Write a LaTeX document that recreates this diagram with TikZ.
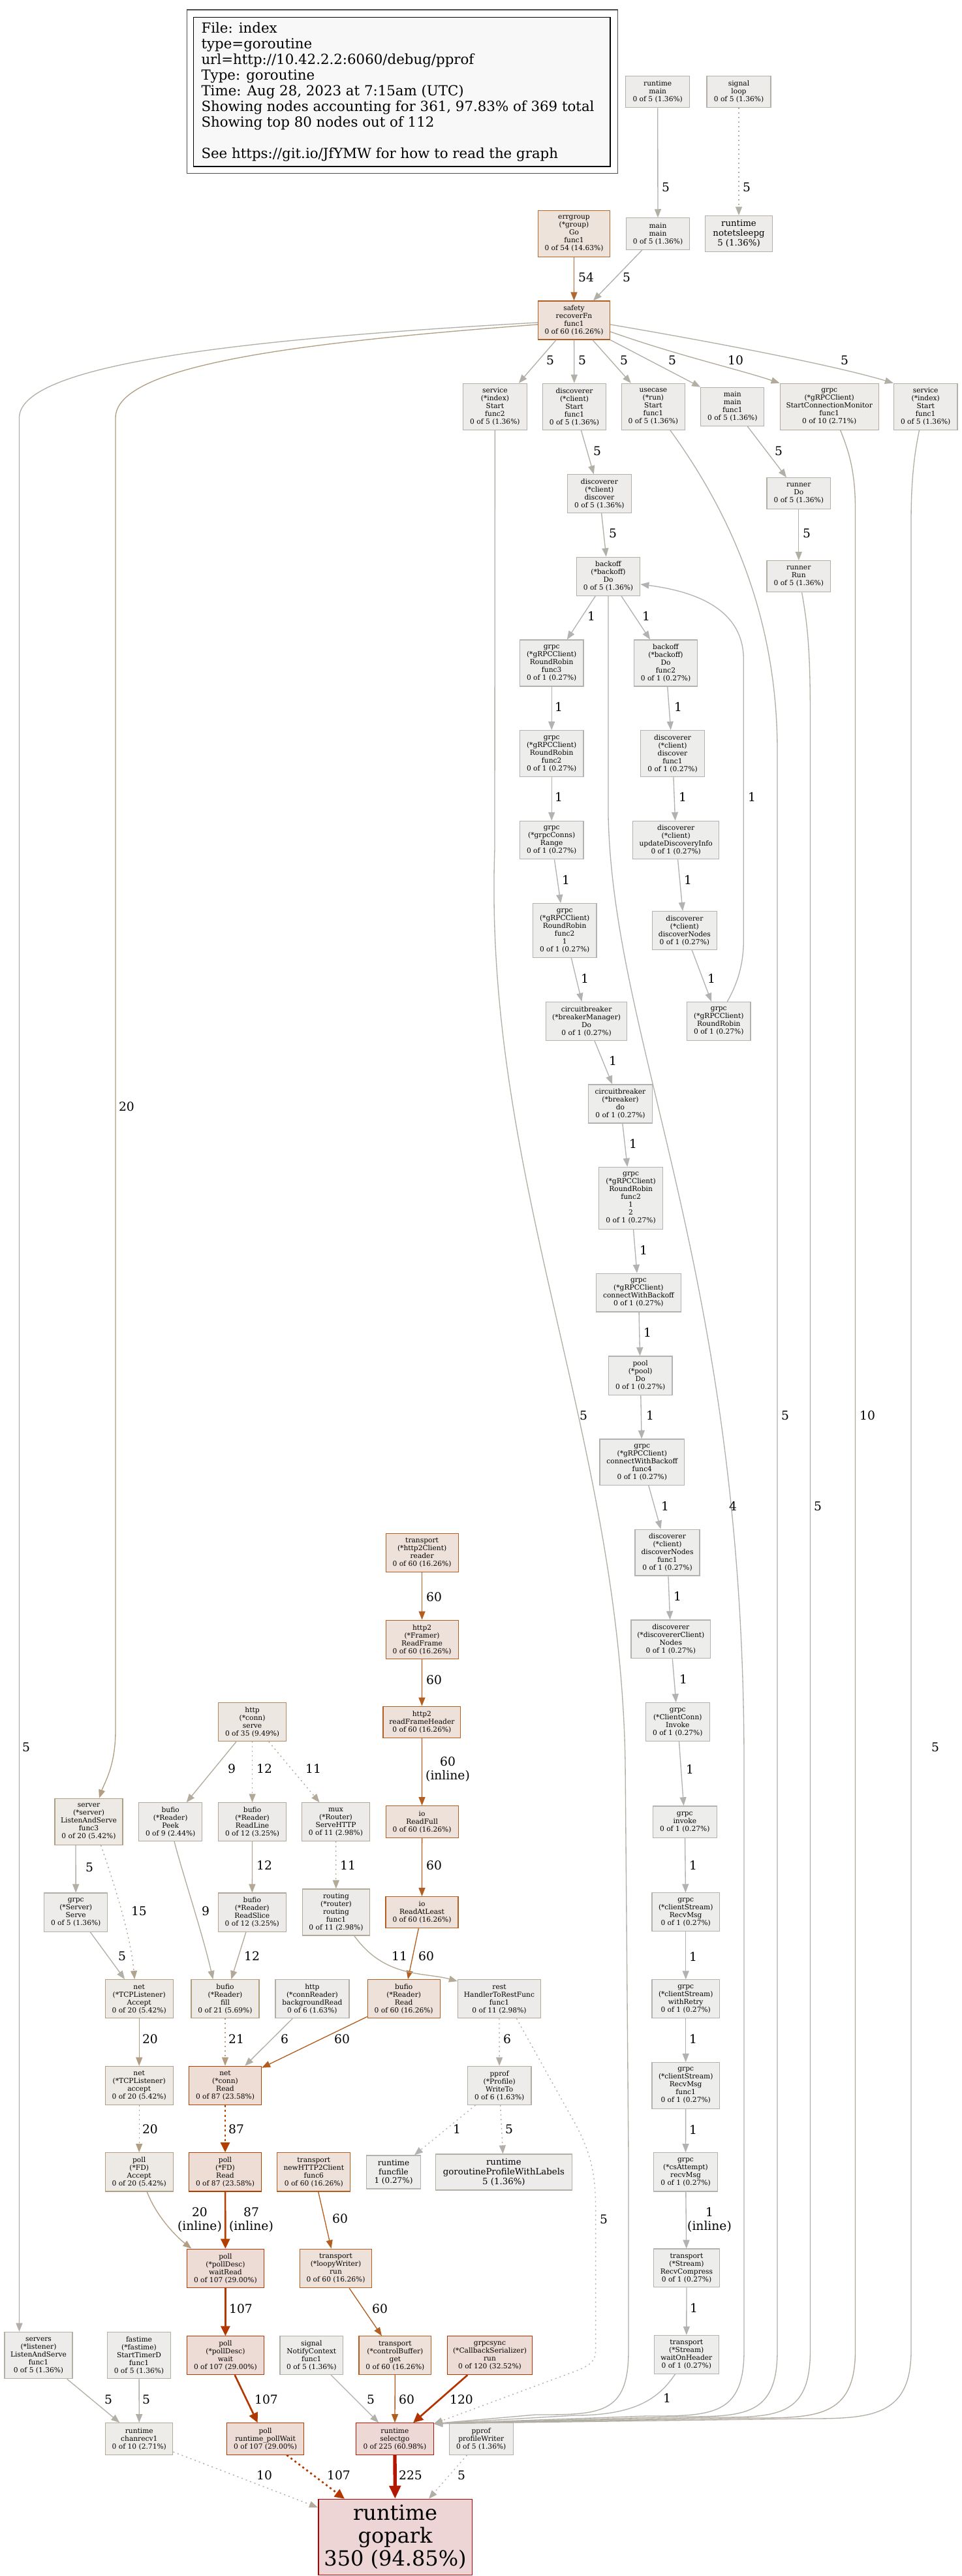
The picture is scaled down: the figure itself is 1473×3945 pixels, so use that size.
\documentclass[tikz,border=0pt]{standalone}
\usepackage{fontspec}
\setmainfont{DejaVu Serif}
\usetikzlibrary{arrows.meta}

% node fill / border colours, keyed by cumulative count
\definecolor{fa1}{HTML}{EDEDEC}\definecolor{da1}{HTML}{B2B2B0}
\definecolor{fa5}{HTML}{EDECEB}\definecolor{da5}{HTML}{B2AFA6}
\definecolor{fa6}{HTML}{EDECEB}\definecolor{da6}{HTML}{B2AEA4}
\definecolor{fa9}{HTML}{EDECEA}\definecolor{da9}{HTML}{B2AB9C}
\definecolor{fa10}{HTML}{EDECE9}\definecolor{da10}{HTML}{B2AA9A}
\definecolor{fa11}{HTML}{EDEBE9}\definecolor{da11}{HTML}{B2A997}
\definecolor{fa12}{HTML}{EDEBE9}\definecolor{da12}{HTML}{B2A895}
\definecolor{fa20}{HTML}{EDEAE6}\definecolor{da20}{HTML}{B29E82}
\definecolor{fa21}{HTML}{EDEAE6}\definecolor{da21}{HTML}{B29D7F}
\definecolor{fa35}{HTML}{EDE7E1}\definecolor{da35}{HTML}{B2885D}
\definecolor{fa54}{HTML}{EDE3DB}\definecolor{da54}{HTML}{B2692F}
\definecolor{fa60}{HTML}{EDE1D9}\definecolor{da60}{HTML}{B25E21}
\definecolor{fa87}{HTML}{EDDDD5}\definecolor{da87}{HTML}{B23E00}
\definecolor{fa107}{HTML}{EDDCD5}\definecolor{da107}{HTML}{B23700}
\definecolor{fa120}{HTML}{EDDCD5}\definecolor{da120}{HTML}{B23300}
\definecolor{fa225}{HTML}{EDD8D5}\definecolor{da225}{HTML}{B21800}
\definecolor{fa350}{HTML}{EDD5D5}\definecolor{da350}{HTML}{B20200}
\definecolor{de4}{HTML}{B2B0A8}
\definecolor{de15}{HTML}{B2A48E}
\definecolor{legfill}{HTML}{F8F8F8}

\tikzset{
  box/.style={draw, line width=1.2pt, inner sep=0pt, align=center,
              font=\fontsize{10.67}{12}\selectfont},
  n1/.style={box, fill=fa1, draw=da1},
  n5/.style={box, fill=fa5, draw=da5},
  n6/.style={box, fill=fa6, draw=da6},
  n9/.style={box, fill=fa9, draw=da9},
  n10/.style={box, fill=fa10, draw=da10},
  n11/.style={box, fill=fa11, draw=da11},
  n12/.style={box, fill=fa12, draw=da12},
  n20/.style={box, fill=fa20, draw=da20},
  n21/.style={box, fill=fa21, draw=da21},
  n35/.style={box, fill=fa35, draw=da35},
  n54/.style={box, fill=fa54, draw=da54},
  n60/.style={box, fill=fa60, draw=da60},
  n87/.style={box, fill=fa87, draw=da87},
  n107/.style={box, fill=fa107, draw=da107},
  n120/.style={box, fill=fa120, draw=da120},
  n225/.style={box, fill=fa225, draw=da225},
  n350/.style={box, fill=fa350, draw=da350, line width=1.6pt},
  big1/.style={font=\fontsize{12}{13.5}\selectfont},
  big5/.style={font=\fontsize{13.33}{14.7}\selectfont},
  huge/.style={font=\fontsize{32}{35}\selectfont},
  ed/.style={line width=1.33pt, -{Triangle[length=13pt,width=10pt]}},
  edb/.style={line width=2.67pt, -{Triangle[length=15pt,width=14pt]}},
  edh/.style={line width=5.33pt, -{Triangle[length=20pt,width=17pt]}},
  resid/.style={dash pattern=on 2pt off 5pt},
  residb/.style={dash pattern=on 3pt off 4.5pt},
  lbl/.style={inner sep=0pt, align=center, font=\fontsize{18.67}{21}\selectfont},
}

% \gv{style}{name}{x}{y}{width}{height}{text}
\newcommand\gv[7]{\node[#1,minimum width=#5,minimum height=#6] (#2) at (#3,#4) {#7};}

\begin{document}
\begin{tikzpicture}[x=1pt,y=-1pt]
\fill[white] (0,0) rectangle (1473,3945);
\useasboundingbox (0,0) rectangle (1473,3945);

% ---------- legend ----------
\node[draw=black, fill=legfill, line width=1.2pt, minimum width=638.2, minimum height=228.3, inner sep=0pt] (legend) at (615.9,140.85) {};
\draw[line width=1.2pt, draw=black!70] ([shift={(-10.1pt,11pt)}]legend.north west) rectangle ([shift={(10.6pt,-10pt)}]legend.south east);
\node[anchor=north west, align=left, inner sep=0pt, font=\fontsize{21.33}{24}\selectfont] (legtext) at (308.3,34.3)
 {File: index\\type=goroutine\\url=http://10.42.2.2:6060/debug/pprof\\Type: goroutine\\Time: Aug 28, 2023 at 7:15am (UTC)\\Showing nodes accounting for 361, 97.83\% of 369 total\\Showing top 80 nodes out of 112\\[24pt]See https://git.io/JfYMW for how to read the graph};

% ---------- nodes: upper right chain ----------
\gv{n5}{rtmain}{1007.7}{140.5}{98}{48.4}{runtime\\main\\0 of 5 (1.36\%)}
\gv{n5}{sigloop}{1132}{140.5}{98}{48.4}{signal\\loop\\0 of 5 (1.36\%)}
\gv{n54}{errgroup}{879.5}{357.8}{110.2}{71}{errgroup\\(*group)\\Go\\func1\\0 of 54 (14.63\%)}
\gv{n5}{mainmain}{1008}{358}{97}{48.3}{main\\main\\0 of 5 (1.36\%)}
\gv{n5,big5}{notetsleepg}{1132}{357.8}{102.5}{55}{runtime\\notetsleepg\\5 (1.36\%)}
\gv{n60}{safety}{879.5}{490.5}{110.2}{59}{safety\\recoverFn\\func1\\0 of 60 (16.26\%)}
\gv{n5}{svcf2}{758.4}{622.8}{97.4}{71}{service\\(*index)\\Start\\func2\\0 of 5 (1.36\%)}
\gv{n5}{discStart}{880}{622.8}{97}{71}{discoverer\\(*client)\\Start\\func1\\0 of 5 (1.36\%)}
\gv{n5}{usecase}{1000.9}{622.8}{97}{71}{usecase\\(*run)\\Start\\func1\\0 of 5 (1.36\%)}
\gv{n5}{mainf1}{1122.3}{622.8}{97}{59}{main\\main\\func1\\0 of 5 (1.36\%)}
\gv{n10}{scm}{1270.7}{622.8}{151}{71}{grpc\\(*gRPCClient)\\StartConnectionMonitor\\func1\\0 of 10 (2.71\%)}
\gv{n5}{svcf1}{1418.2}{622.8}{97.5}{71}{service\\(*index)\\Start\\func1\\0 of 5 (1.36\%)}
\gv{n5}{discover}{918.4}{756}{97.5}{58.5}{discoverer\\(*client)\\discover\\0 of 5 (1.36\%)}
\gv{n5}{runnerDo}{1223.8}{755.7}{97.5}{48}{runner\\Do\\0 of 5 (1.36\%)}
\gv{n5}{runnerRun}{1223.8}{882.8}{97.5}{48}{runner\\Run\\0 of 5 (1.36\%)}
\gv{n5}{backoffDo}{932}{882.6}{97.5}{59}{backoff\\(*backoff)\\Do\\0 of 5 (1.36\%)}
\gv{n1}{rrf3}{845.2}{1015.5}{97.5}{71}{grpc\\(*gRPCClient)\\RoundRobin\\func3\\0 of 1 (0.27\%)}
\gv{n1}{backoffF2}{1020}{1015.5}{97.2}{71}{backoff\\(*backoff)\\Do\\func2\\0 of 1 (0.27\%)}
\gv{n1}{rrf2a}{845.2}{1154}{97.5}{71}{grpc\\(*gRPCClient)\\RoundRobin\\func2\\0 of 1 (0.27\%)}
\gv{n1}{discF1}{1030.5}{1154}{97.5}{71}{discoverer\\(*client)\\discover\\func1\\0 of 1 (0.27\%)}
\gv{n1}{conns}{845.2}{1286.6}{97.5}{58.4}{grpc\\(*grpcConns)\\Range\\0 of 1 (0.27\%)}
\gv{n1}{updInfo}{1035.7}{1286.6}{132.2}{58.4}{discoverer\\(*client)\\updateDiscoveryInfo\\0 of 1 (0.27\%)}
\gv{n1}{rrf21}{865.2}{1425}{97.5}{82.6}{grpc\\(*gRPCClient)\\RoundRobin\\func2\\1\\0 of 1 (0.27\%)}
\gv{n1}{discNodes}{1048.9}{1425}{98.6}{58.8}{discoverer\\(*client)\\discoverNodes\\0 of 1 (0.27\%)}
\gv{n1}{cbMgr}{898.6}{1563.8}{124.3}{58.7}{circuitbreaker\\(*breakerManager)\\Do\\0 of 1 (0.27\%)}
\gv{n1}{rr}{1101.3}{1563.8}{97.5}{58.7}{grpc\\(*gRPCClient)\\RoundRobin\\0 of 1 (0.27\%)}
\gv{n1}{cbDo}{950.5}{1690.5}{97.5}{58.9}{circuitbreaker\\(*breaker)\\do\\0 of 1 (0.27\%)}
\gv{n1}{rrf212}{966.6}{1834.9}{97.5}{95}{grpc\\(*gRPCClient)\\RoundRobin\\func2\\1\\2\\0 of 1 (0.27\%)}
\gv{n1}{cwb}{978.4}{1979.6}{129.6}{58.6}{grpc\\(*gRPCClient)\\connectWithBackoff\\0 of 1 (0.27\%)}
\gv{n1}{poolDo}{981.2}{2106.5}{97.7}{59.2}{pool\\(*pool)\\Do\\0 of 1 (0.27\%)}
\gv{n1}{cwbF4}{983.8}{2239.2}{129.7}{70.3}{grpc\\(*gRPCClient)\\connectWithBackoff\\func4\\0 of 1 (0.27\%)}
\gv{n1}{discNodesF1}{1022.5}{2377.6}{99}{70.8}{discoverer\\(*client)\\discoverNodes\\func1\\0 of 1 (0.27\%)}
\gv{n1}{dcNodes}{1027.8}{2510.3}{121.7}{58.8}{discoverer\\(*discovererClient)\\Nodes\\0 of 1 (0.27\%)}
\gv{n1}{ccInvoke}{1038.3}{2637}{98}{58.8}{grpc\\(*ClientConn)\\Invoke\\0 of 1 (0.27\%)}
\gv{n1}{invokeL}{1049.3}{2790.1}{98}{48.4}{grpc\\invoke\\0 of 1 (0.27\%)}
\gv{n1}{csRecv}{1050.7}{2928.3}{103.3}{58.9}{grpc\\(*clientStream)\\RecvMsg\\0 of 1 (0.27\%)}
\gv{n1}{withRetry}{1050.7}{3061.1}{103.3}{58.5}{grpc\\(*clientStream)\\withRetry\\0 of 1 (0.27\%)}
\gv{n1}{csRecvF1}{1050.7}{3193.9}{103.3}{70.7}{grpc\\(*clientStream)\\RecvMsg\\func1\\0 of 1 (0.27\%)}
\gv{n1}{attRecv}{1050.5}{3326.3}{97.6}{59.3}{grpc\\(*csAttempt)\\recvMsg\\0 of 1 (0.27\%)}
\gv{n1}{recvCompress}{1052}{3473.4}{100.3}{58.8}{transport\\(*Stream)\\RecvCompress\\0 of 1 (0.27\%)}
\gv{n1}{waitHdr}{1051.8}{3605.8}{99}{58.9}{transport\\(*Stream)\\waitOnHeader\\0 of 1 (0.27\%)}

% ---------- nodes: lower left / middle ----------
\gv{n60}{h2reader}{646.6}{2377.8}{111}{59}{transport\\(*http2Client)\\reader\\0 of 60 (16.26\%)}
\gv{n60}{readFrame}{646.6}{2510.8}{111}{59.3}{http2\\(*Framer)\\ReadFrame\\0 of 60 (16.26\%)}
\gv{n60}{rfh}{646.4}{2637.3}{118.8}{48.2}{http2\\readFrameHeader\\0 of 60 (16.26\%)}
\gv{n60}{readFull}{646.6}{2790}{111}{48.7}{io\\ReadFull\\0 of 60 (16.26\%)}
\gv{n60}{readAtLeast}{646.5}{2928.6}{111}{48}{io\\ReadAtLeast\\0 of 60 (16.26\%)}
\gv{n35}{httpServe}{386.6}{2637.3}{104.4}{58.9}{http\\(*conn)\\serve\\0 of 35 (9.49\%)}
\gv{n9}{peek}{261.2}{2790.1}{97.3}{58.5}{bufio\\(*Reader)\\Peek\\0 of 9 (2.44\%)}
\gv{n12}{readLine}{386.6}{2790.1}{104.4}{58.5}{bufio\\(*Reader)\\ReadLine\\0 of 12 (3.25\%)}
\gv{n11}{muxServe}{514.5}{2790.1}{104}{58.5}{mux\\(*Router)\\ServeHTTP\\0 of 11 (2.98\%)}
\gv{n20}{srvLAS}{136}{2789.8}{104}{71}{server\\(*server)\\ListenAndServe\\func3\\0 of 20 (5.42\%)}
\gv{n5}{grpcServe}{116.2}{2928.7}{97}{59.3}{grpc\\(*Server)\\Serve\\0 of 5 (1.36\%)}
\gv{n12}{readSlice}{386.3}{2928.7}{104}{59.3}{bufio\\(*Reader)\\ReadSlice\\0 of 12 (3.25\%)}
\gv{n11}{routingF1}{515}{2928.5}{103.5}{71}{routing\\(*router)\\routing\\func1\\0 of 11 (2.98\%)}
\gv{n20}{tcpAccept}{213.2}{3061.2}{104}{59}{net\\(*TCPListener)\\Accept\\0 of 20 (5.42\%)}
\gv{n21}{bfill}{345}{3061.2}{104}{59}{bufio\\(*Reader)\\fill\\0 of 21 (5.69\%)}
\gv{n6}{bgRead}{478.4}{3061.2}{113}{59}{http\\(*connReader)\\backgroundRead\\0 of 6 (1.63\%)}
\gv{n60}{bufRead}{618.7}{3061.2}{111}{59}{bufio\\(*Reader)\\Read\\0 of 60 (16.26\%)}
\gv{n11}{rest}{765}{3061.2}{127}{59}{rest\\HandlerToRestFunc\\func1\\0 of 11 (2.98\%)}
\gv{n20}{tcpAcc2}{213.2}{3193.8}{104}{59}{net\\(*TCPListener)\\accept\\0 of 20 (5.42\%)}
\gv{n87}{connRead}{345}{3193.8}{111}{59}{net\\(*conn)\\Read\\0 of 87 (23.58\%)}
\gv{n6}{profWrite}{765.2}{3193.8}{97.6}{59}{pprof\\(*Profile)\\WriteTo\\0 of 6 (1.63\%)}
\gv{n20}{fdAccept}{213.2}{3326.3}{104}{59.3}{poll\\(*FD)\\Accept\\0 of 20 (5.42\%)}
\gv{n87}{fdRead}{345}{3326.3}{111}{59.3}{poll\\(*FD)\\Read\\0 of 87 (23.58\%)}
\gv{n60}{h2f6}{480.8}{3326.3}{112}{59.3}{transport\\newHTTP2Client\\func6\\0 of 60 (16.26\%)}
\gv{n1,big1}{funcfile}{603}{3326.5}{82.6}{51}{runtime\\funcfile\\1 (0.27\%)}
\gv{n5,big5}{gpwl}{771.9}{3326.5}{208.4}{55}{runtime\\goroutineProfileWithLabels\\5 (1.36\%)}
\gv{n107}{waitRead}{345.4}{3473.9}{118.4}{59.5}{poll\\(*pollDesc)\\waitRead\\0 of 107 (29.00\%)}
\gv{n60}{loopy}{514.5}{3473.9}{110}{59.5}{transport\\(*loopyWriter)\\run\\0 of 60 (16.26\%)}
\gv{n107}{pdWait}{345.4}{3607.2}{118.4}{58.7}{poll\\(*pollDesc)\\wait\\0 of 107 (29.00\%)}
\gv{n5}{servers}{59}{3607}{104}{71.4}{servers\\(*listener)\\ListenAndServe\\func1\\0 of 5 (1.36\%)}
\gv{n5}{fastime}{213}{3607}{97.4}{71.4}{fastime\\(*fastime)\\StartTimerD\\func1\\0 of 5 (1.36\%)}
\gv{n5}{notify}{477.3}{3607.2}{96.5}{58.7}{signal\\NotifyContext\\func1\\0 of 5 (1.36\%)}
\gv{n60}{ctrlGet}{605.4}{3607.2}{110.7}{58.7}{transport\\(*controlBuffer)\\get\\0 of 60 (16.26\%)}
\gv{n120}{cbSer}{750.5}{3607.2}{130.6}{58.7}{grpcsync\\(*CallbackSerializer)\\run\\0 of 120 (32.52\%)}
\gv{n10}{chanrecv}{213.3}{3735}{103}{48.5}{runtime\\chanrecv1\\0 of 10 (2.71\%)}
\gv{n107}{pollWait}{406.6}{3735}{118.4}{48.5}{poll\\runtime\_pollWait\\0 of 107 (29.00\%)}
\gv{n225}{selectgo}{604.9}{3735}{119}{48.5}{runtime\\selectgo\\0 of 225 (60.98\%)}
\gv{n5}{profWriter}{737.2}{3735}{98}{48.5}{pprof\\profileWriter\\0 of 5 (1.36\%)}
\gv{n350,huge}{gopark}{605.6}{3885.5}{235.7}{116}{runtime\\gopark\\350 (94.85\%)}

% ---------- edges: top ----------
\draw[ed,da5] (rtmain) -- (mainmain); \node[lbl] (l1) at (1020,287) {5};
\draw[ed,da5,resid] (sigloop) -- (notetsleepg); \node[lbl] (l2) at (1144,287) {5};
\draw[ed,da54] (errgroup) -- (safety); \node[lbl] (l3) at (898,425) {54};
\draw[ed,da5] ([xshift=-24pt]mainmain.south) -- ([xshift=29.5pt]safety.north); \node[lbl] (l4) at (960,425) {5};
\draw[ed,da5] ([xshift=-27.3pt]safety.south) -- ([xshift=36.5pt]svcf2.north); \node[lbl] (l5) at (843,552) {5};
\draw[ed,da5] (safety) -- (discStart); \node[lbl] (l6) at (892,552) {5};
\draw[ed,da5] ([xshift=28.4pt]safety.south) -- ([xshift=15pt]usecase.north west); \node[lbl] (l7) at (956,552) {5};
\draw[ed,da5] (safety.south east) -- (mainf1.north west); \node[lbl] (l8) at (1030,552) {5};
\draw[ed,da10] ([yshift=-17.5pt]safety.east) .. controls (1040,545) and (1130,565) .. (scm.north west); \node[lbl] (l9) at (1127,552) {10};
\draw[ed,da5] ([yshift=-6.5pt]safety.east) .. controls (1100,525) and (1280,560) .. (svcf1.north west); \node[lbl] (l10) at (1294,552) {5};

% long edges to the left column
\draw[ed,da20] ([yshift=-6.5pt]safety.west) .. controls (450,525) and (177,560) .. (177,640) -- (177,2650) .. controls (177,2705) and (160,2730) .. ([xshift=16pt]srvLAS.north);
\node[lbl] (l11) at (194,1695) {20};
\draw[ed,da5] ([yshift=-3.5pt]safety.west) .. controls (350,520) and (29.5,560) .. (29.5,640) -- ([xshift=-29.5pt]servers.north);
\node[lbl] (l12) at (40,2676) {5};

% ---------- edges: discovery chain ----------
\draw[ed,da5] (discStart) -- (discover); \node[lbl] (l13) at (915,691) {5};
\draw[ed,da5] (mainf1) -- (runnerDo); \node[lbl] (l15) at (1193,691) {5};
\draw[ed,da5] (discover) -- (backoffDo); \node[lbl] (l18) at (939,817) {5};
\draw[ed,da5] (runnerDo) -- (runnerRun); \node[lbl] (l19) at (1236,817) {5};
\draw[ed,da1] (backoffDo) -- (rrf3); \node[lbl] (l21) at (906,944) {1};
\draw[ed,da1] (backoffDo) -- (backoffF2); \node[lbl] (l22) at (990,944) {1};
\draw[ed,da1] (rrf3) -- (rrf2a); \node[lbl] (l24) at (856,1083) {1};
\draw[ed,da1] (backoffF2) -- (discF1); \node[lbl] (l25) at (1039,1083) {1};
\draw[ed,da1] (rrf2a) -- (conns); \node[lbl] (l26) at (856,1221) {1};
\draw[ed,da1] (discF1) -- (updInfo); \node[lbl] (l27) at (1046,1221) {1};
\draw[ed,da1] (conns) -- (rrf21); \node[lbl] (l28) at (867,1348) {1};
\draw[ed,da1] (updInfo) -- (discNodes); \node[lbl] (l29) at (1054,1348) {1};
\draw[ed,da1] (rrf21) -- (cbMgr); \node[lbl] (l30) at (896,1499) {1};
\draw[ed,da1] (discNodes) -- (rr); \node[lbl] (l31) at (1090,1499) {1};
\draw[ed,da1] ([xshift=13pt]rr.north) .. controls (1128,1510) and (1139.3,1480) .. (1139.3,1440) -- (1139.3,1010) .. controls (1139.3,930) and (1060,905) .. ([yshift=-12.2pt]backoffDo.east);
\node[lbl] (l32) at (1152,1221) {1};
\draw[ed,da1] (cbMgr) -- (cbDo); \node[lbl] (l33) at (939,1625) {1};
\draw[ed,da1] (cbDo) -- (rrf212); \node[lbl] (l34) at (970,1752) {1};
\draw[ed,da1] (rrf212) -- (cwb); \node[lbl] (l35) at (986,1915) {1};
\draw[ed,da1] (cwb) -- (poolDo); \node[lbl] (l36) at (992,2041) {1};
\draw[ed,da1] (poolDo) -- (cwbF4); \node[lbl] (l37) at (996,2168) {1};
\draw[ed,da1] (cwbF4) -- (discNodesF1); \node[lbl] (l38) at (1019,2307) {1};
\draw[ed,da1] (discNodesF1) -- (dcNodes); \node[lbl] (l39) at (1038,2445) {1};
\draw[ed,da1] (dcNodes) -- (ccInvoke); \node[lbl] (l40) at (1047,2572) {1};
\draw[ed,da1] (ccInvoke) -- (invokeL); \node[lbl] (l41) at (1057,2710) {1};
\draw[ed,da1] (invokeL) -- (csRecv); \node[lbl] (l42) at (1062,2857) {1};
\draw[ed,da1] (csRecv) -- (withRetry); \node[lbl] (l43) at (1062,2997) {1};
\draw[ed,da1] (withRetry) -- (csRecvF1); \node[lbl] (l44) at (1062,3123) {1};
\draw[ed,da1] (csRecvF1) -- (attRecv); \node[lbl] (l45) at (1062,3262) {1};
\draw[ed,da1] (attRecv) -- (recvCompress); \node[lbl] (l46) at (1087,3399) {1\\(inline)};
\draw[ed,da1] (recvCompress) -- (waitHdr); \node[lbl] (l47) at (1063,3535) {1};

% ---------- long edges into selectgo ----------
\draw[ed,da5] (svcf2.south) -- (758,1300) .. controls (740,1800) and (950,2200) .. (958,2700) -- (963,3300) -- (963,3600) .. controls (963,3698) and (920,3698) .. (820,3698) -- ([yshift=-1.5pt]selectgo.north east);
\node[lbl] (l90) at (894,2168) {5};
\draw[ed,de4] (backoffDo.south) -- (932,1250) .. controls (940,1600) and (1140,1950) .. (1140,2700) -- (1140,3600) .. controls (1140,3700) and (1090,3700) .. (990,3700) -- ([yshift=-1.5pt]selectgo.north east);
\node[lbl] (l23) at (1123,2307) {4};
\draw[ed,da5] ([xshift=26pt]usecase.south) .. controls (1100,760) and (1191,920) .. (1191,1150) -- (1191,3600) .. controls (1191,3701) and (1140,3701) .. (1040,3701) -- ([yshift=-1.5pt]selectgo.north east);
\node[lbl] (l14) at (1203,2168) {5};
\draw[ed,da5] ([xshift=4.8pt]runnerRun.south) .. controls (1238,960) and (1241.5,1000) .. (1241.5,1100) -- (1241.5,3600) .. controls (1241.5,3702) and (1190,3702) .. (1090,3702) -- ([yshift=-1.5pt]selectgo.north east);
\node[lbl] (l20) at (1253,2307) {5};
\draw[ed,da10] ([xshift=17pt]scm.south) .. controls (1300,690) and (1310.5,720) .. (1310.5,780) -- (1310.5,3600) .. controls (1310.5,3703) and (1250,3703) .. (1150,3703) -- ([yshift=-1.5pt]selectgo.north east);
\node[lbl] (l16) at (1329,2168) {10};
\draw[ed,da5] ([xshift=-9.7pt]svcf1.south) .. controls (1400,700) and (1396,740) .. (1396,800) -- (1396,3600) .. controls (1396,3704) and (1330,3704) .. (1230,3704) -- ([yshift=-1.5pt]selectgo.north east);
\node[lbl] (l17) at (1433,2676) {5};
\draw[ed,da1] ([xshift=-17.3pt]waitHdr.south) .. controls (1010,3672) and (975,3699) .. (880,3699) -- ([yshift=-1.5pt]selectgo.north east);
\node[lbl] (l48) at (1022,3673) {1};

% ---------- edges: http2 reader chain ----------
\draw[ed,da60] (h2reader) -- (readFrame); \node[lbl] (l49) at (665,2446) {60};
\draw[ed,da60] (readFrame) -- (rfh); \node[lbl] (l50) at (665,2573) {60};
\draw[ed,da60] (rfh) -- (readFull); \node[lbl] (l51) at (686,2709) {60\\(inline)};
\draw[ed,da60] (readFull) -- (readAtLeast); \node[lbl] (l52) at (665,2857) {60};
\draw[ed,da60] (readAtLeast) -- (bufRead); \node[lbl] (l53) at (653,2996) {60};

% ---------- edges: http server ----------
\draw[ed,da9] (httpServe) -- (peek); \node[lbl] (l54) at (355,2709) {9};
\draw[ed,da12,resid] (httpServe) -- (readLine); \node[lbl] (l55) at (405,2709) {12};
\draw[ed,da11,resid] (httpServe) -- (muxServe); \node[lbl] (l56) at (480,2709) {11};
\draw[ed,da12] (readLine) -- (readSlice); \node[lbl] (l57) at (405,2857) {12};
\draw[ed,da11,resid] (muxServe) -- (routingF1); \node[lbl] (l58) at (533,2857) {11};
\draw[ed,da9] ([xshift=5.8pt]peek.south) .. controls (280,2870) and (310,2960) .. ([xshift=-18.6pt]bfill.north); \node[lbl] (l59) at (315,2927) {9};
\draw[ed,da12] (readSlice) -- (bfill); \node[lbl] (l60) at (386,2996) {12};
\draw[ed,da11] ([xshift=27.8pt]routingF1.south) .. controls (590,3030) and (650,3020) .. ([yshift=-3pt]rest.north west); \node[lbl] (l61) at (612,2996) {11};

% ---------- edges: listeners ----------
\draw[ed,da5] ([xshift=-20pt]srvLAS.south) -- (grpcServe.north); \node[lbl] (l62) at (137,2860) {5};
\draw[ed,de15,resid] ([xshift=18.5pt]srvLAS.south) .. controls (170,2870) and (200,2960) .. ([xshift=-7pt]tcpAccept.north); \node[lbl] (l63) at (213,2927) {15};
\draw[ed,da5] (grpcServe) -- (tcpAccept); \node[lbl] (l64) at (187,2996) {5};
\draw[ed,da20] (tcpAccept) -- (tcpAcc2); \node[lbl] (l65) at (230,3123) {20};
\draw[ed,da21,resid] (bfill) -- (connRead); \node[lbl] (l66) at (362,3123) {21};
\draw[ed,da6] (bgRead) -- (connRead); \node[lbl] (l67) at (436,3123) {6};
\draw[ed,da60] (bufRead) -- (connRead); \node[lbl] (l68) at (524,3123) {60};
\draw[ed,da6,resid] (rest) -- (profWrite); \node[lbl] (l69) at (777,3123) {6};
\draw[ed,da5,resid] ([xshift=26.5pt]rest.south) -- (880,3250) .. controls (905,3295) and (912.6,3330) .. (912.6,3380) -- (912.6,3600) .. controls (912.6,3615) and (905,3622) .. (885,3630) -- ([yshift=-1.5pt]selectgo.north east);
\node[lbl] (l70) at (925,3399) {5};
\draw[ed,da20,resid] (tcpAcc2) -- (fdAccept); \node[lbl] (l71) at (230,3261) {20};
\draw[edb,da87,residb] (connRead) -- (fdRead); \node[lbl] (l72) at (362,3261) {87};
\draw[ed,da1,resid] (profWrite) -- (funcfile); \node[lbl] (l73) at (700,3261) {1};
\draw[ed,da5,resid] (profWrite) -- (gpwl); \node[lbl] (l74) at (780,3261) {5};
\draw[ed,da20] ([xshift=12pt]fdAccept.south) .. controls (240,3395) and (270,3425) .. ([xshift=7.7pt]waitRead.north west); \node[lbl] (l75) at (306,3399) {20\\(inline)};
\draw[edb,da87] (fdRead) -- (waitRead); \node[lbl] (l76) at (385,3399) {87\\(inline)};
\draw[ed,da60] (h2f6) -- (loopy); \node[lbl] (l77) at (521,3398) {60};
\draw[edb,da107] (waitRead) -- (pdWait); \node[lbl] (l78) at (369,3536) {107};
\draw[ed,da60] (loopy) -- (ctrlGet); \node[lbl] (l79) at (582,3536) {60};

% ---------- edges: bottom ----------
\draw[ed,da5] (servers) -- (chanrecv); \node[lbl] (l80) at (166,3675) {5};
\draw[ed,da5] (fastime) -- (chanrecv); \node[lbl] (l81) at (224,3675) {5};
\draw[edb,da107] (pdWait) -- (pollWait); \node[lbl] (l82) at (408,3675) {107};
\draw[ed,da5] (notify) -- (selectgo); \node[lbl] (l83) at (568,3675) {5};
\draw[ed,da60] (ctrlGet) -- (selectgo); \node[lbl] (l84) at (623,3675) {60};
\draw[edb,da120] (cbSer) -- (selectgo); \node[lbl] (l85) at (707,3675) {120};
\draw[ed,da10,resid] (chanrecv) -- (gopark); \node[lbl] (l86) at (405,3791) {10};
\draw[edb,da107,residb] (pollWait) -- (gopark); \node[lbl] (l87) at (519,3791) {107};
\draw[edh,da225] (selectgo) -- (gopark); \node[lbl] (l88) at (629,3791) {225};
\draw[ed,da5,resid] (profWriter) -- (gopark); \node[lbl] (l89) at (707,3791) {5};
\end{tikzpicture}
\end{document}
